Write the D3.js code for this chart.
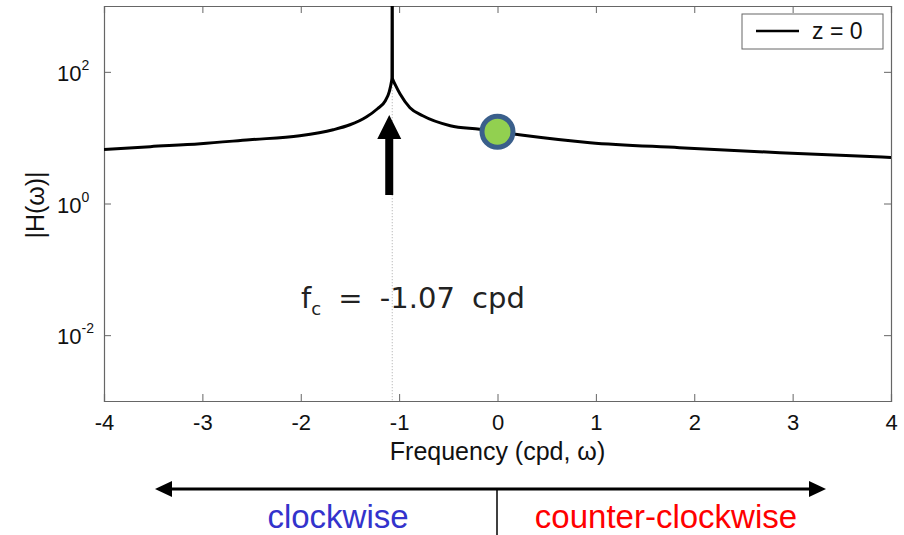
<!DOCTYPE html>
<html>
<head>
<meta charset="utf-8">
<script src="https://cdn.jsdelivr.net/npm/d3@7"></script>
<style>
body{margin:0;background:#fff;}
</style>
</head>
<body>
<svg width="904" height="535"></svg>
<script>
// curve (cpd, |H|)
var freq = [-4.00, -3.53, -3.02, -2.52, -2.01, -1.67, -1.50, -1.33, -1.22, -1.14, -1.10, -1.08, -1.073,
            -1.07, -1.068,
            -1.06, -1.04, -0.99, -0.89, -0.76, -0.48, -0.18, 0.00, 0.26, 0.94, 1.85, 2.87, 4.00];
var mag  = [6.6, 7.3, 8.1, 9.3, 10.7, 13.2, 15.7, 20.8, 27.5, 36.4, 50, 68, 80,
            5000, 80,
            74, 64, 46, 28.5, 21.5, 15.2, 13.4, 12.3, 10.9, 8.4, 7.05, 5.9, 5.0];

var xTicks = [-4, -3, -2, -1, 0, 1, 2, 3, 4];
var yTicks = [1e-2, 1, 1e2];
var yExp = ["-2", "0", "2"];
var fc = -1.07;
var fcCusp = 80;
var dot = [0, 12.3];
var legendLabel = "z = 0";

var svg = d3.select("svg");
var font = "Liberation Sans, Arial, sans-serif";
var pLeft = 104, pRight = 891, pTop = 6, pBottom = 401;

var x = d3.scaleLinear().domain([-4, 4]).range([pLeft, pRight]);
var y = d3.scaleLog().domain([1e-3, 1e3]).range([pBottom, pTop]);

svg.append("defs").append("clipPath").attr("id", "plotclip")
    .append("rect").attr("x", pLeft).attr("y", pTop)
    .attr("width", pRight - pLeft).attr("height", pBottom - pTop);

// dotted line at fc
svg.append("line")
    .attr("x1", x(fc)).attr("x2", x(fc))
    .attr("y1", y(fcCusp)).attr("y2", pBottom)
    .attr("stroke", "#aaa").attr("stroke-width", 1)
    .attr("stroke-dasharray", "1,2");

// axes
var tickLen = 7;
var axB = svg.append("g").attr("transform", "translate(0," + pBottom + ")")
    .call(d3.axisBottom(x).tickValues(xTicks).tickSize(-tickLen).tickPadding(13));
var axT = svg.append("g").attr("transform", "translate(0," + pTop + ")")
    .call(d3.axisTop(x).tickValues(xTicks).tickSize(-tickLen).tickFormat(""));
var axL = svg.append("g").attr("transform", "translate(" + pLeft + ",0)")
    .call(d3.axisLeft(y).tickValues(yTicks).tickSize(-tickLen).tickFormat(""));
var axR = svg.append("g").attr("transform", "translate(" + pRight + ",0)")
    .call(d3.axisRight(y).tickValues(yTicks).tickSize(-tickLen).tickFormat(""));

[axB, axT, axL, axR].forEach(function(a){
    a.select(".domain").attr("stroke", "#666").attr("stroke-width", 1.2);
    a.selectAll(".tick line").attr("stroke", "#666");
});
axB.selectAll(".tick text")
    .style("font-family", font).style("font-size", "22px").attr("fill", "#111")
    .text(function(d){ return d < 0 ? "-" + Math.abs(d) : d; });

// y tick labels with superscripts
var yl = svg.append("g").selectAll("text").data(yTicks).enter().append("text")
    .attr("x", pLeft - 47).attr("y", function(d){ return y(d) + 9; })
    .style("font-family", font).style("font-size", "22px").attr("fill", "#111");
yl.append("tspan").text("10");
yl.append("tspan").attr("dy", -11).style("font-size", "14px")
    .text(function(d, i){ return yExp[i]; });

// axis titles
svg.append("text")
    .attr("transform", "translate(44,205) rotate(-90)")
    .attr("text-anchor", "middle")
    .style("font-family", font).style("font-size", "25px").attr("fill", "#111")
    .text("|H(\u03C9)|");
svg.append("text")
    .attr("x", x(0)).attr("y", 460)
    .attr("text-anchor", "middle")
    .style("font-family", font).style("font-size", "25px").attr("fill", "#111")
    .text("Frequency (cpd, \u03C9)");

// curve
var line = d3.line()
    .curve(d3.curveMonotoneX)
    .x(function(d, i){ return x(freq[i]); })
    .y(function(d, i){ return y(mag[i]); });
svg.append("path")
    .datum(freq)
    .attr("clip-path", "url(#plotclip)")
    .attr("d", line)
    .attr("fill", "none").attr("stroke", "#000")
    .attr("stroke-width", 3).attr("stroke-linejoin", "round");

// legend
var lg = svg.append("g");
lg.append("rect").attr("x", 742).attr("y", 14).attr("width", 141).attr("height", 35)
    .attr("fill", "#fff").attr("stroke", "#666").attr("stroke-width", 1);
lg.append("line").attr("x1", 756).attr("x2", 799).attr("y1", 31).attr("y2", 31)
    .attr("stroke", "#000").attr("stroke-width", 2.5);
lg.append("text").attr("x", 812).attr("y", 39)
    .style("font-family", font).style("font-size", "23px").attr("fill", "#111")
    .text(legendLabel);

// green marker at omega = 0
svg.append("circle")
    .attr("cx", x(dot[0])).attr("cy", y(dot[1])).attr("r", 15.5)
    .attr("fill", "#92d050").attr("stroke", "#3a5f8b").attr("stroke-width", 5);

// arrow pointing at the resonance
var ax0 = x(fc) - 3;
svg.append("rect").attr("x", ax0 - 4).attr("y", 136).attr("width", 8).attr("height", 59)
    .attr("fill", "#000");
svg.append("path")
    .attr("d", "M" + ax0 + ",115 L" + (ax0 + 12) + ",139 L" + (ax0 - 12) + ",139 Z")
    .attr("fill", "#000");

// fc annotation
var fcText = svg.append("text").attr("x", 301).attr("y", 308)
    .style("font-family", "DejaVu Sans, Verdana, sans-serif")
    .style("font-size", "29px").style("word-spacing", "8px")
    .attr("fill", "#222");
fcText.append("tspan").text("f");
fcText.append("tspan").attr("dy", 7).style("font-size", "18px").text("c");
fcText.append("tspan").attr("dy", -7).attr("xml:space", "preserve").text(" = -1.07 cpd");

// rotation direction strip
var yA = 489;
svg.append("line").attr("x1", 170).attr("x2", 812).attr("y1", yA).attr("y2", yA)
    .attr("stroke", "#000").attr("stroke-width", 3);
svg.append("path").attr("d", "M155," + yA + " L172," + (yA - 8) + " L172," + (yA + 8) + " Z").attr("fill", "#000");
svg.append("path").attr("d", "M826," + yA + " L809," + (yA - 8) + " L809," + (yA + 8) + " Z").attr("fill", "#000");
svg.append("line").attr("x1", 497).attr("x2", 497).attr("y1", yA).attr("y2", 535)
    .attr("stroke", "#000").attr("stroke-width", 1.5);
svg.append("text").attr("x", 338).attr("y", 528).attr("text-anchor", "middle")
    .style("font-family", font).style("font-size", "33px").attr("fill", "#3333cc").text("clockwise");
svg.append("text").attr("x", 666).attr("y", 528).attr("text-anchor", "middle")
    .style("font-family", font).style("font-size", "33px").attr("fill", "#ff0000").text("counter-clockwise");
</script>
</body>
</html>
